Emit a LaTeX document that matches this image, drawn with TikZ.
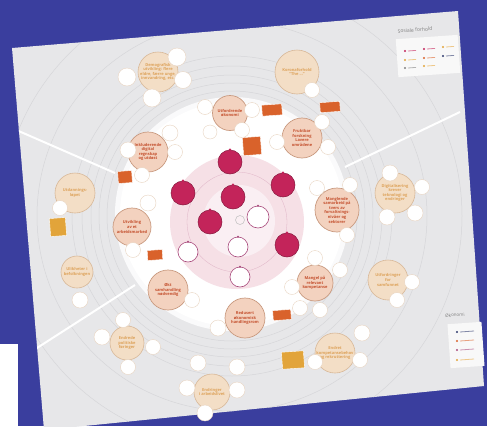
\documentclass[tikz,border=0pt]{standalone}
\usepackage{fontspec}
\setmainfont{Open Sans}
\definecolor{bgblue}{HTML}{3A3E9E}
\definecolor{poster}{HTML}{E7E7E9}
\definecolor{ring}{HTML}{D6D6D9}
\definecolor{pinkdisk}{HTML}{F6E0E6}
\definecolor{salmon}{HTML}{F3D2BF}
\definecolor{salmonb}{HTML}{C99A80}
\definecolor{beige}{HTML}{F3DEC6}
\definecolor{beigeb}{HTML}{D8B898}
\definecolor{redtxt}{HTML}{C4502E}
\definecolor{ambtxt}{HTML}{DDA25A}
\definecolor{orangebox}{HTML}{D9622B}
\definecolor{amberbox}{HTML}{E2A43A}
\definecolor{mag}{HTML}{C3245A}
\definecolor{magline}{HTML}{A94A7C}
\definecolor{navy}{HTML}{2F3A6E}
\tikzset{
  inbig/.style={circle,fill=salmon,draw=salmonb,line width=0.7pt,text=redtxt,font=\fontsize{4}{4.6}\selectfont\bfseries,align=center,inner sep=0pt},
  outbig/.style={circle,fill=beige,draw=beigeb,line width=0.6pt,text=ambtxt,font=\fontsize{4}{4.6}\selectfont\bfseries,align=center,inner sep=0pt},
  sat/.style={circle,fill=white,draw=beigeb!60,line width=0.4pt,inner sep=0pt},
  obox/.style={fill=orangebox,draw=white,line width=0.4pt,inner sep=0pt},
  abox/.style={fill=amberbox,draw=white,line width=0.4pt,inner sep=0pt},
  magc/.style={circle,fill=mag,draw=mag!70!black,line width=0.5pt,inner sep=0pt},
  mago/.style={circle,fill=white,draw=magline,line width=0.6pt,inner sep=0pt},
  divider/.style={white,line width=2pt},
  ringline/.style={ring,line width=0.5pt},
  legmark/.style={circle,inner sep=0pt,minimum size=2.4}
}
\begin{document}
\begin{tikzpicture}[x=1pt,y=-1pt]
\useasboundingbox (0,0) rectangle (487,426);
\fill[bgblue] (0,0) rectangle (487,426);
\fill[poster] (12,48) -- (458,11) -- (484,386) -- (44,430) -- cycle;
\begin{scope}
\clip (12,48) -- (458,11) -- (484,386) -- (44,430) -- cycle;
% outer rings
\foreach \r in {125,133,141,150,160,195,230}{\draw[ringline] (232,216) circle (\r);}
% dividers
\draw[divider] (14,129) -- (115,173);
\draw[divider] (37,348) -- (135,285);
\draw[divider] (460,112) -- (345,167);
% white disk
\fill[white!80!poster] (232,214) circle (117);
\fill[white] (232,214) circle (112);
\fill[pinkdisk] (237,222) circle (67);
\fill[pinkdisk!50!white] (239,221) circle (36);
\draw[pinkdisk!70!magline,line width=0.3pt] (237,222) circle (50);
\end{scope}
% white panel bottom-left
\fill[white] (0,344) rectangle (18,426);

% ===== legends =====
\node[text=gray,font=\fontsize{5}{6}\selectfont,rotate=4] (t1) at (415,30) {Sosiale forhold};
\node[fill=white!70!poster,minimum width=62,minimum height=38,rotate=4] (lg1) at (428,56) {};
\foreach \x/\y/\c in {405/51/mag,424/49/mag,443/47/amberbox,405/60/amberbox,424/58/orangebox,443/56/navy,405/68/gray,424/66/amberbox}
  {\node[legmark,fill=\c] at (\x,\y) {}; \draw[\c!60,line width=0.8pt] (\x+3,\y) -- (\x+11,\y-0.6);}
\node[text=gray,font=\fontsize{4.5}{5}\selectfont,rotate=4] (t2) at (455,315) {Økonomi};
\node[fill=white!70!poster,minimum width=34,minimum height=44,rotate=4] (lg2) at (466,345) {};
\foreach \y/\c in {332/navy,341/orangebox,350/magline,360/amberbox}
  {\node[legmark,fill=\c] at (457,\y) {}; \draw[\c!60,line width=0.8pt] (460,\y) -- (474,\y-1);}

% ===== centre =====
\node[magc,minimum size=24] (m1) at (230,162) {};
\node[magc,minimum size=24] (m2) at (183,193) {};
\node[magc,minimum size=24] (m3) at (233,197) {};
\node[magc,minimum size=24] (m4) at (283,185) {};
\node[magc,minimum size=24] (m5) at (210,222) {};
\node[magc,minimum size=24] (m6) at (287,245) {};
\node[mago,minimum size=22] (o1) at (258,217) {};
\node[mago,minimum size=20] (o2) at (188,252) {};
\node[mago,minimum size=20] (o3) at (238,247) {};
\node[mago,minimum size=20] (o4) at (240,277) {};
\foreach \n in {m1,m2,m3,m4,m5,m6}{\fill[mag] (\n.north) circle (1.3);}
\foreach \n in {o1,o2,o3,o4}{\fill[magline] (\n.north) circle (1.2);}
\node[circle,draw=gray!50,line width=0.5pt,minimum size=9,inner sep=0pt] (logo) at (240,220) {};

% ===== inner ring big circles =====
\node[inbig,minimum size=35] (b1) at (230,113) {Utfordrende\\økonomi};
\node[inbig,minimum size=40] (b2) at (302,138) {Fruktbar\\forskning\\Lavere\\områdene};
\node[inbig,minimum size=40] (b3) at (148,152) {Inkluderende\\digital\\regnskap\\og utdøst};
\node[inbig,minimum size=38] (b4) at (132,227) {Utvikling\\av et\\arbeidsmarked};
\node[inbig,minimum size=44] (b5) at (337,210) {Manglende\\samarbeid på\\tvers av\\forvaltnings-\\nivåer og\\sektorer};
\node[inbig,minimum size=36] (b6) at (315,283) {Mangel på\\relevant\\kompetanse};
\node[inbig,minimum size=40] (b7) at (168,290) {Økt\\samhandling\\nødvendig};
\node[inbig,minimum size=40] (b8) at (245,318) {Redusert\\økonomisk\\handlingsrom};

% ===== outer ring big circles =====
\node[outbig,minimum size=40] (c1) at (158,72) {Demografisk\\utvikling: flere\\eldre, færre unge,\\innvandring, etc.};
\node[outbig,minimum size=44] (c2) at (297,72) {Koronaforhold\\``The ...''};
\node[outbig,minimum size=40] (c3) at (75,193) {Utdannings-\\løpet};
\node[outbig,minimum size=32] (c4) at (77,272) {Ulikheter i\\befolkningen};
\node[outbig,minimum size=40] (c5) at (395,193) {Digitalisering\\krever\\teknologi og\\endringer};
\node[outbig,minimum size=40] (c6) at (388,280) {Utfordringer\\for\\samfunnet};
\node[outbig,minimum size=34] (c7) at (127,343) {Endrede\\politiske\\føringer};
\node[outbig,minimum size=36] (c8) at (212,392) {Endringer\\i arbeidslivet};
\node[outbig,minimum size=40] (c9) at (335,353) {Endret\\kompetansebehov\\og rekruttering};

% ===== satellites =====
\foreach \x/\y/\s [count=\i] in {177/57/18,127/77/18,183/80/17,152/98/18,
 205/107/15,252/110/15,210/132/14,242/130/15,
 322/122/15,277/142/15,328/147/15,
 128/150/16,170/133/16,175/152/15,142/175/15,
 60/208/15,148/203/16,133/250/15,80/300/16,192/300/15,
 123/320/15,102/337/16,153/347/15,128/367/15,
 218/328/16,198/363/16,187/388/16,237/367/16,237/390/16,205/413/16,
 362/333/16,360/360/15,315/362/15,
 292/287/15,315/258/15,340/270/15,300/308/15,320/310/15,
 317/188/15,350/185/15,347/235/15,
 390/173/16,422/187/15,387/217/16,415/213/16,
 412/282/15,397/300/15,312/90/15}
 {\node[sat,minimum size=\s] (s\i) at (\x,\y) {};}

% ===== boxes =====
\node[obox,minimum width=20,minimum height=11,rotate=4] (r1) at (272,110) {};
\node[obox,minimum width=18,minimum height=18,rotate=4] (r2) at (252,146) {};
\node[obox,minimum width=20,minimum height=10,rotate=4] (r3) at (330,107) {};
\node[obox,minimum width=14,minimum height=12,rotate=4] (r4) at (125,177) {};
\node[obox,minimum width=15,minimum height=10,rotate=4] (r5) at (155,255) {};
\node[obox,minimum width=18,minimum height=10,rotate=4] (r6) at (282,315) {};
\node[abox,minimum width=16,minimum height=18,rotate=4] (r7) at (58,227) {};
\node[abox,minimum width=22,minimum height=17,rotate=4] (r8) at (293,360) {};
\end{tikzpicture}
\end{document}
